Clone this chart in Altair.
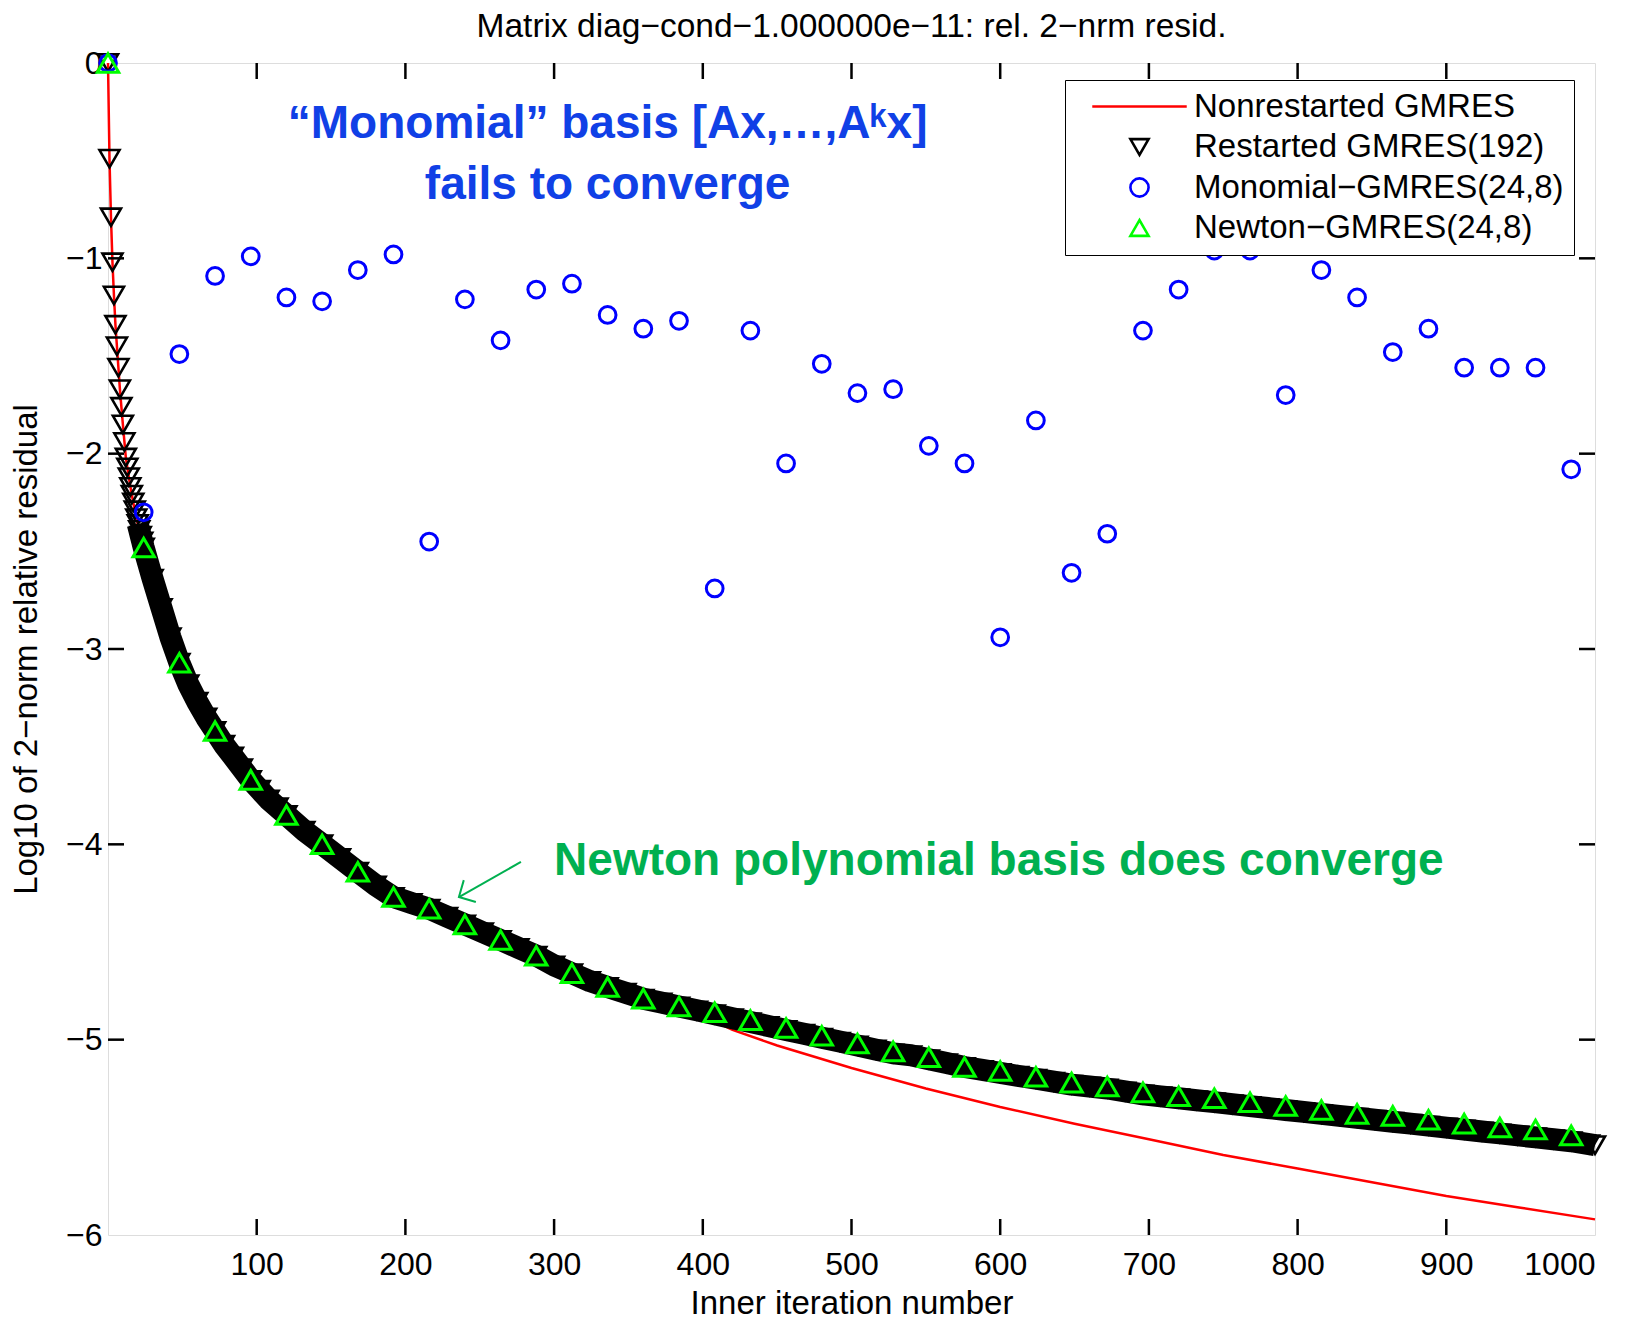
import altair as alt
import pandas as pd

# ---------------- data ----------------
SERIES = ["Nonrestarted GMRES", "Restarted GMRES(192)",
          "Monomial\u2212GMRES(24,8)", "Newton\u2212GMRES(24,8)"]
COLORS = ["#ff0000", "#000000", "#0000ff", "#00ff00"]
SHAPES = ["M-5.2,0H5.2", "triangle-down", "circle", "triangle-up"]

red_iter = [0, 1, 2, 3, 4, 5, 6, 7, 8, 9, 10, 12, 14, 16, 18, 20, 24, 30, 36, 48,
            60, 72, 96, 120, 144, 168, 192, 216, 240, 264, 288, 312, 336, 360, 384,
            400, 420, 450, 500, 550, 600, 650, 700, 750, 800, 850, 900, 950, 1000]
red_val = [0, -0.49, -0.79, -1.02, -1.19, -1.34, -1.45, -1.56, -1.67, -1.76, -1.85,
           -2.02, -2.12, -2.21, -2.29, -2.36, -2.46, -2.64, -2.79, -3.07,
           -3.27, -3.42, -3.67, -3.85, -4.00, -4.14, -4.27, -4.33, -4.41, -4.49,
           -4.57, -4.66, -4.73, -4.79, -4.83,
           -4.88, -4.95, -5.03, -5.145, -5.25, -5.345, -5.43, -5.51, -5.59, -5.66,
           -5.73, -5.80, -5.86, -5.92]

black_iter = [0, 1, 2, 3, 4, 5, 6, 7, 8, 9, 10, 11, 12, 13, 14, 15, 16, 17, 18, 19,
              20, 21, 22, 23, 24, 30, 36, 42, 48, 54, 60, 66, 72, 78, 84, 90, 96,
              102, 108, 114, 120, 132, 144, 156, 168, 180, 192, 204, 216, 228, 240,
              252, 264, 276, 288, 300, 312, 324, 336, 348, 360, 372, 384, 396, 408,
              420, 432, 444, 456, 468, 480, 492, 504, 516, 528, 540, 552, 564, 576,
              588, 600, 612, 624, 636, 648, 660, 672, 684, 696, 708, 720, 732, 744,
              756, 768, 780, 792, 804, 816, 828, 840, 852, 864, 876, 888, 900, 912,
              924, 936, 948, 960, 972, 984, 996, 1000]
black_val = [0, -0.49, -0.79, -1.02, -1.19, -1.34, -1.45, -1.56, -1.67, -1.76, -1.85,
             -1.94, -2.02, -2.07, -2.12, -2.17, -2.21, -2.25, -2.29, -2.33,
             -2.36, -2.39, -2.42, -2.45, -2.48, -2.64, -2.79, -2.94, -3.07, -3.18,
             -3.27, -3.35, -3.42, -3.49, -3.55, -3.61, -3.67,
             -3.72, -3.77, -3.81, -3.85, -3.93, -4.00, -4.07, -4.14, -4.21, -4.27,
             -4.30, -4.33, -4.37, -4.41, -4.45, -4.49, -4.53, -4.57, -4.62, -4.66,
             -4.70, -4.73, -4.76, -4.79, -4.81, -4.83, -4.85, -4.87, -4.89, -4.91,
             -4.93, -4.95, -4.97, -4.99, -5.01, -5.03, -5.05, -5.07, -5.08, -5.10,
             -5.12, -5.14, -5.155, -5.17, -5.185, -5.20, -5.215, -5.23, -5.24,
             -5.25, -5.265, -5.28, -5.29, -5.30, -5.31, -5.32, -5.33, -5.34, -5.35,
             -5.36, -5.37, -5.38, -5.39, -5.40, -5.41, -5.42, -5.43, -5.44, -5.45,
             -5.46, -5.47, -5.48, -5.49, -5.50, -5.51, -5.52, -5.535, -5.54]

s_iter = [0, 24, 48, 72, 96, 120, 144, 168, 192, 216, 240, 264, 288, 312, 336, 360,
          384, 408, 432, 456, 480, 504, 528, 552, 576, 600, 624, 648, 672, 696, 720,
          744, 768, 792, 816, 840, 864, 888, 912, 936, 960, 984]
mono_val = [0, -2.30, -1.49, -1.09, -0.99, -1.20, -1.22, -1.06, -0.98, -2.45, -1.21,
            -1.42, -1.16, -1.13, -1.29, -1.36, -1.32, -2.69, -1.37, -2.05, -1.54,
            -1.69, -1.67, -1.96, -2.05, -2.94, -1.83, -2.61, -2.41, -1.37, -1.16,
            -0.96, -0.96, -1.70, -1.06, -1.20, -1.48, -1.36, -1.56, -1.56, -1.56,
            -2.08]
newton_val = [0, -2.48, -3.07, -3.42, -3.67, -3.85, -4.00, -4.14, -4.27, -4.33, -4.41,
              -4.49, -4.57, -4.66, -4.73, -4.79, -4.83, -4.86, -4.90, -4.94, -4.98,
              -5.02, -5.06, -5.09, -5.14, -5.16, -5.19, -5.22, -5.24, -5.27, -5.29,
              -5.30, -5.32, -5.34, -5.36, -5.38, -5.39, -5.41, -5.43, -5.45, -5.46,
              -5.49]

x_ticks = [100, 200, 300, 400, 500, 600, 700, 800, 900, 1000]
y_ticks = [0, -1, -2, -3, -4, -5, -6]
x_inner_ticks = [100, 200, 300, 400, 500, 600, 700, 800, 900]
y_inner_ticks = [-1, -2, -3, -4, -5]

blue_note = ["\u201cMonomial\u201d basis [Ax,\u2026,A\u1d4fx]", "fails to converge"]
blue_note_x = [336, 336]
blue_note_y = [-0.384, -0.696]
green_note = ["Newton polynomial basis does converge"]
green_note_x = [300]
green_note_y = [-4.157]
arrow_x = [277.7, 236]
arrow_y = [-4.09, -4.27]

TITLE = "Matrix diag\u2212cond\u22121.000000e\u221211: rel. 2\u2212nrm resid."
XTITLE = "Inner iteration number"
YTITLE = "Log10 of 2\u2212norm relative residual"

# ---------------- tables ----------------
W, H = 1487, 1172
FONT = "Liberation Sans, Arial, Helvetica, sans-serif"
BOLD = "Liberation Sans, Arial, sans-serif"

red_df = pd.DataFrame({"iter": red_iter, "val": red_val, "series": SERIES[0]})
black_df = pd.DataFrame({"iter": black_iter, "val": black_val, "series": SERIES[1]})
mono_df = pd.DataFrame({"iter": s_iter, "val": mono_val, "series": SERIES[2]})
newt_df = pd.DataFrame({"iter": s_iter, "val": newton_val, "series": SERIES[3]})

xs = alt.Scale(domain=[0, 1000], nice=False, zero=False)
ys = alt.Scale(domain=[-6, 0], nice=False, zero=False)
cs = alt.Scale(domain=SERIES, range=COLORS)
ss = alt.Scale(domain=SERIES, range=SHAPES)

x_axis = alt.Axis(values=x_ticks, format="d", grid=False, domain=False, ticks=False,
                  tickSize=0, labelPadding=14, labelFont=FONT, labelFontSize=32,
                  labelColor="black", title=XTITLE, titleFont=FONT, titleFontSize=33,
                  titleFontWeight="normal", titleColor="black", titleX=W / 2,
                  titleY=78, titleBaseline="alphabetic", titleAlign="center")
y_axis = alt.Axis(values=y_ticks, format="d", grid=False,
                  domain=False, ticks=False, tickSize=0, labelPadding=6,
                  labelFont=FONT, labelFontSize=32, labelColor="black",
                  title=YTITLE, titleFont=FONT, titleFontSize=33,
                  titleFontWeight="normal", titleColor="black", titleX=-82,
                  titleY=H / 2, titleAlign="center", titleBaseline="middle",
                  titleAngle=270)

X = alt.X("iter:Q", scale=xs, axis=x_axis)
Y = alt.Y("val:Q", scale=ys, axis=y_axis)

legend = alt.Legend(title=None, orient="none", legendX=957, legendY=17,
                    direction="vertical", fillColor="white", strokeColor="black",
                    padding=10, rowPadding=6.5, symbolSize=330, symbolStrokeWidth=2.6,
                    symbolOffset=48, labelOffset=38, labelFont=FONT,
                    labelFontSize=33, labelColor="black", labelLimit=0)

color_enc = alt.Color("series:N", scale=cs, legend=legend)
shape_enc = alt.Shape("series:N", scale=ss, legend=legend)

red_line = alt.Chart(red_df).mark_line(strokeWidth=2.5, clip=False).encode(
    x=X, y=Y, color=color_enc, order="iter:Q")

band = alt.Chart(black_df).transform_filter("datum.iter >= 20").mark_line(
    color="black", strokeWidth=22, strokeCap="butt", strokeJoin="round").encode(
    x=X, y=Y, order="iter:Q")

black_pts = alt.Chart(black_df).mark_point(filled=False, size=400, strokeWidth=2.6,
                                           opacity=1).encode(
    x=X, y=Y, color=color_enc, shape=shape_enc)

mono_pts = alt.Chart(mono_df).mark_point(filled=False, size=280, strokeWidth=3,
                                         opacity=1).encode(
    x=X, y=Y, color=color_enc, shape=shape_enc)

newt_pts = alt.Chart(newt_df).mark_point(filled=False, size=460, strokeWidth=3,
                                         opacity=1).encode(
    x=X, y=Y, color=color_enc, shape=shape_enc)

# inward tick marks (MATLAB style box axes)
xt_df = pd.DataFrame({"iter": x_inner_ticks})
yt_df = pd.DataFrame({"val": y_inner_ticks})
TL = 16
tick_bottom = alt.Chart(xt_df).mark_rule(color="black", strokeWidth=2.5).encode(
    x=X, y=alt.value(H - TL), y2=alt.value(H))
tick_top = alt.Chart(xt_df).mark_rule(color="black", strokeWidth=2.5).encode(
    x=X, y=alt.value(0), y2=alt.value(TL))
tick_left = alt.Chart(yt_df).mark_rule(color="black", strokeWidth=2.5).encode(
    y=Y, x=alt.value(0), x2=alt.value(TL))
tick_right = alt.Chart(yt_df).mark_rule(color="black", strokeWidth=2.5).encode(
    y=Y, x=alt.value(W - TL), x2=alt.value(W))

# annotations
blue_df = pd.DataFrame({"iter": blue_note_x, "val": blue_note_y, "t": blue_note})
blue_txt = alt.Chart(blue_df).mark_text(font=BOLD, fontSize=46, fontWeight="bold",
                                        color="#1040e6", align="center",
                                        baseline="alphabetic").encode(
    x=X, y=Y, text="t:N")

green_df = pd.DataFrame({"iter": green_note_x, "val": green_note_y, "t": green_note})
green_txt = alt.Chart(green_df).mark_text(font=BOLD, fontSize=46, fontWeight="bold",
                                          color="#00b050", align="left",
                                          baseline="alphabetic").encode(
    x=X, y=Y, text="t:N")

arrow_df = pd.DataFrame({"iter": arrow_x, "val": arrow_y, "k": [0, 1]})
arrow_line = alt.Chart(arrow_df).mark_line(color="#00b050", strokeWidth=2).encode(
    x=X, y=Y, order="k:Q")
arrow_head = alt.Chart(arrow_df).transform_filter("datum.k == 1").mark_point(
    shape="M-1,-1L0,0L-1,1", filled=False, size=620, angle=151, color="#00b050",
    strokeWidth=2, opacity=1).encode(x=X, y=Y)

chart = alt.layer(
    red_line, band, black_pts, mono_pts, newt_pts,
    tick_bottom, tick_top, tick_left, tick_right,
    blue_txt, green_txt, arrow_line, arrow_head,
).resolve_scale(color="shared", shape="shared").properties(
    width=W, height=H,
    padding={"left": 108, "top": 63, "right": 49, "bottom": 85},
    autosize=alt.AutoSizeParams(type="none"),
    title=alt.TitleParams(TITLE, font=FONT, fontSize=33.5, fontWeight="normal",
                          color="black", anchor="middle", offset=3),
).configure_view(stroke="black", strokeWidth=3).configure_legend(
    strokeWidth=2.5
).configure(background="white")

chart.save("out.html", embed_options={"renderer": "svg", "actions": False})
